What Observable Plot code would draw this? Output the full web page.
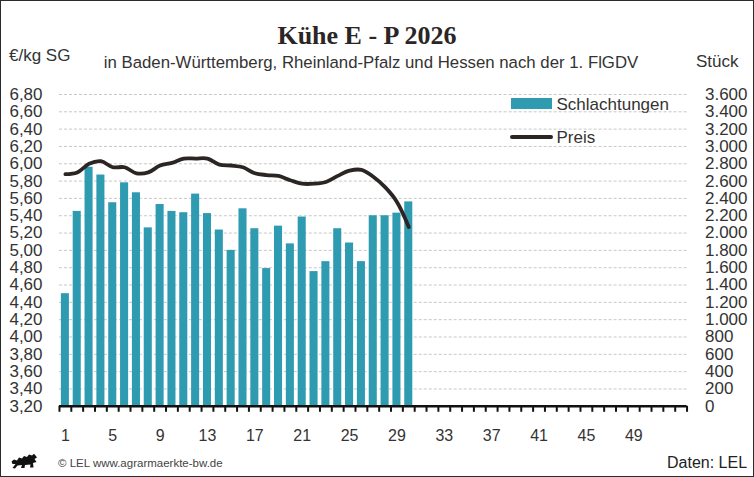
<!DOCTYPE html>
<html><head><meta charset="utf-8">
<script src="https://cdn.jsdelivr.net/npm/d3@7"></script>
<script src="https://cdn.jsdelivr.net/npm/@observablehq/plot@0.6"></script>
<style>
html,body{margin:0;padding:0;background:#fff;}
#wrap{position:relative;width:754px;height:477px;box-sizing:border-box;border:1.5px solid #2b2b2b;background:#fff;font-family:"Liberation Sans",Arial,sans-serif;color:#222;overflow:hidden;}
.abs{position:absolute;white-space:nowrap;line-height:1;}
#chart{position:absolute;left:-1.5px;top:76px;}
</style></head><body>
<div id="wrap">
  <div class="abs" style="left:0;width:732px;text-align:center;top:22px;font-family:'Liberation Serif','DejaVu Serif',serif;font-weight:bold;font-size:26px;color:#2b2624;">Kühe E - P 2026</div>
  <div class="abs" style="left:0;width:740px;text-align:center;top:54px;font-size:16.8px;color:#333;">in Baden-Württemberg, Rheinland-Pfalz und Hessen nach der 1. FlGDV</div>
  <div class="abs" style="left:8px;top:45.5px;font-size:17px;color:#333;">€/kg SG</div>
  <div class="abs" style="left:695px;top:52px;font-size:17px;color:#333;">Stück</div>
  <div class="abs" style="left:509.5px;top:96.5px;width:41px;height:11px;background:#2e9bb0;"></div>
  <div class="abs" style="left:555.5px;top:94.5px;font-size:17px;color:#333;">Schlachtungen</div>
  <div class="abs" style="left:508.5px;top:134px;width:43px;height:4px;border-radius:2px;background:#2b2623;"></div>
  <div class="abs" style="left:555.5px;top:128px;font-size:17px;color:#333;">Preis</div>
  <svg class="abs" style="left:10px;top:452px;" width="27" height="17" viewBox="0 0 27 17">
    <path d="M0.5 8.5 L3 6.5 L6 7.5 L8 4.5 L11 5.5 L13 3 L16 4 L18 1.5 L21 2.5 L23 0.8 L24.5 2.5 L26 4.5 L23.5 6 L25.5 9 L22 10 L22.5 14.5 L19 14.5 L19.5 11.5 L14 12 L13.5 15 L10 15 L11 12 L6.5 12.5 L4 15.5 L1.5 15 L4.5 11 L1.5 11 Z" fill="#111"/>
  </svg>
  <div class="abs" style="left:57px;top:457px;font-size:11.5px;color:#444;">© LEL www.agrarmaerkte-bw.de</div>
  <div class="abs" style="left:666px;top:454px;font-size:16px;color:#222;">Daten: LEL</div>
  <div id="chart"></div>
</div>
<script>
// Data
const weeks = [1,2,3,4,5,6,7,8,9,10,11,12,13,14,15,16,17,18,19,20,21,22,23,24,25,26,27,28,29,30];
const schlachtungen = [1300,2250,2760,2670,2350,2580,2465,2060,2330,2250,2235,2450,2225,2035,1800,2280,2050,1590,2080,1875,2185,1555,1670,2050,1885,1670,2200,2200,2230,2360];
const preis = [5.88,5.90,6.00,6.03,5.96,5.96,5.89,5.90,5.98,6.01,6.06,6.06,6.06,5.99,5.98,5.96,5.89,5.87,5.86,5.81,5.77,5.77,5.79,5.86,5.92,5.93,5.85,5.73,5.56,5.27];
const xLabelTicks = [1,5,9,13,17,21,25,29,33,37,41,45,49];
const allWeeks = d3.range(1, 54);
const priceTicks = [3.2,3.4,3.6,3.8,4.0,4.2,4.4,4.6,4.8,5.0,5.2,5.4,5.6,5.8,6.0,6.2,6.4,6.6,6.8];
const countTicks = [0,200,400,600,800,1000,1200,1400,1600,1800,2000,2200,2400,2600,2800,3000,3200,3400,3600];

const de = d3.formatLocale({decimal: ",", thousands: ".", grouping: [3], currency: ["", "€"]});
const fPrice = de.format(".2f");
const fCount = de.format(",d");

// secondary axis mapping: Stück -> price scale
const priceMin = priceTicks[0], priceMax = priceTicks[priceTicks.length-1];
const countMax = countTicks[countTicks.length-1];
const toPrice = c => priceMin + c * (priceMax - priceMin) / countMax;

const halfBar = 0.34;
const barData = weeks.map((w, i) => ({week: w, x1: w - halfBar, x2: w + halfBar, y2: toPrice(schlachtungen[i])}));
const lineData = weeks.map((w, i) => ({week: w, preis: preis[i]}));
const boundaries = allWeeks.map(w => w - 0.5).concat([allWeeks[allWeeks.length-1] + 0.5]);

const font = "'Liberation Sans', Arial, sans-serif";
const chart = Plot.plot({
  width: 754,
  height: 372,
  marginLeft: 59,
  marginRight: 67,
  marginTop: 17,
  marginBottom: 43,
  style: {fontFamily: font, fontSize: "17px", color: "#333", background: "transparent", overflow: "visible"},
  x: {type: "linear", domain: [0.5, 53.5], axis: null},
  y: {domain: [priceMin, priceMax], axis: null, label: null},
  marks: [
    Plot.gridY(priceTicks.slice(1), {stroke: "#c8c8c8", strokeOpacity: 1, strokeWidth: 1, strokeDasharray: "3,2"}),
    Plot.rectY(barData, {x1: "x1", x2: "x2", y1: priceMin, y2: "y2", fill: "#2e9bb0"}),
    Plot.line(lineData, {x: "week", y: "preis", stroke: "#2b2623", strokeWidth: 3.8, curve: "catmull-rom", strokeLinecap: "round"}),
    Plot.ruleY([priceMin], {stroke: "#111", strokeWidth: 2.5}),
    Plot.axisX({ticks: boundaries, tickSize: 6, tickFormat: () => "", stroke: "#111", strokeWidth: 2}),
    Plot.axisX({ticks: xLabelTicks, tickSize: 0, tickPadding: 23, tickFormat: d => String(d), fontSize: 16, fill: "#333"}),
    Plot.axisY({anchor: "left", ticks: priceTicks, tickSize: 0, tickPadding: 17, tickFormat: fPrice, fontSize: 17, fill: "#333"}),
    Plot.axisY({anchor: "right", ticks: priceTicks, tickSize: 0, tickPadding: 18, tickFormat: d => fCount(countTicks[priceTicks.indexOf(d)]), fontSize: 17, fill: "#333"})
  ]
});
document.getElementById("chart").appendChild(chart);
</script>
</body></html>
